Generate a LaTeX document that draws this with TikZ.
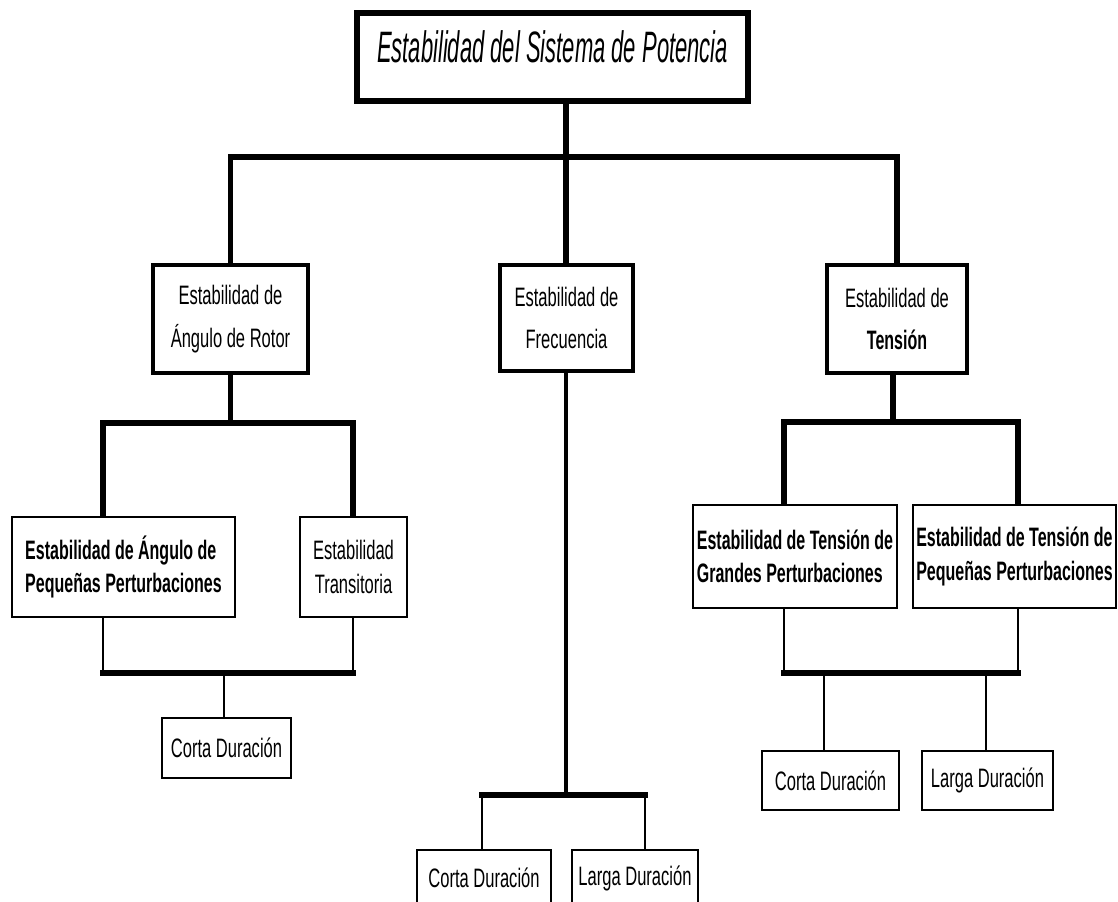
\documentclass[tikz,border=0pt]{standalone}
\usepackage{fontspec}
\usetikzlibrary{backgrounds,shadows}
\newfontfamily\regf[FakeStretch=0.62]{Liberation Sans}
\newfontfamily\boldf[FakeStretch=0.60]{Liberation Sans}
\newfontfamily\titf[FakeStretch=0.50]{Liberation Sans}
\newcommand\bx[7]{\node[#6, minimum width={(#4-#2)*0.75pt}, minimum height={(#5-#3)*0.75pt}] (#1) at ({(#2+#4)/2},{(#3+#5)/2}) {#7};}
\tikzset{
  x=0.75pt, y=-0.75pt,
  box/.style={draw=black, fill=white, inner sep=0pt, align=center,
    drop shadow={shadow xshift=0.9pt, shadow yshift=-0.9pt, opacity=0.8, fill=black}},
  topbox/.style={box, line width=4.5pt, font=\titf\itshape\fontsize{33}{38}\selectfont},
  midbox/.style={box, line width=3pt, font=\regf\fontsize{20}{32}\selectfont},
  subbox/.style={box, line width=1.8pt},
  leafbox/.style={box, line width=1.5pt, font=\regf\fontsize{20}{24}\selectfont},
  boldtxt/.style={align=left, font=\boldf\bfseries\fontsize{20}{25}\selectfont},
  regtxt/.style={font=\regf\fontsize{20}{26}\selectfont},
  tline/.style={line width=4.3pt, line cap=rect, line join=miter},
  mline/.style={line width=2.2pt, line cap=rect},
  vline/.style={line width=3pt, line cap=rect},
  nline/.style={line width=1.5pt},
}
\begin{document}
\begin{tikzpicture}
\useasboundingbox (0,0) rectangle (1118,902);
% level 0
\bx{top}{357}{13}{748}{101}{topbox}{\raisebox{8pt}[\height][\depth]{Estabilidad del Sistema de Potencia}}
% level 1
\bx{L1}{153}{265}{308}{373}{midbox}{Estabilidad de\\Ángulo de Rotor}
\bx{M1}{500}{265}{633}{371}{midbox,line width=2.4pt}{Estabilidad de\\Frecuencia}
\bx{R1}{827}{265}{967}{373}{midbox}{Estabilidad de\\{\boldf\bfseries Tensión}}
% level 2
\bx{L2a}{12}{517}{235}{617}{subbox,boldtxt}{Estabilidad de Ángulo de\\Pequeñas Perturbaciones}
\bx{L2b}{300}{517}{407}{617}{subbox,regtxt}{Estabilidad\\Transitoria}
\bx{R2a}{693}{505}{897}{608}{subbox,boldtxt}{Estabilidad de Tensión de\\Grandes Perturbaciones}
\bx{R2b}{913}{505}{1116}{608}{subbox,boldtxt}{Estabilidad de Tensión de\\Pequeñas Perturbaciones}
% level 3
\bx{LC}{162}{718}{291}{778}{leafbox}{Corta Duración}
\bx{MC}{417}{850}{551}{906}{leafbox}{Corta Duración}
\bx{ML}{572}{850}{698}{906}{leafbox}{Larga Duración}
\bx{RC}{762}{751}{899}{810}{leafbox}{Corta Duración}
\bx{RL}{922}{751}{1053}{810}{leafbox}{Larga Duración}
% junction coordinates
\coordinate (b0) at (566,157);
\coordinate (b1l) at (103,423);
\coordinate (b1r) at (353,423);
\coordinate (b2l) at (103,673);
\coordinate (b2r) at (353,673);
\coordinate (b2c) at (224,673);
\coordinate (b3) at (566,795);
\coordinate (b3l) at (482,795);
\coordinate (b3r) at (645,795);
\coordinate (b4) at (893,422);
\coordinate (b4l) at (784,422);
\coordinate (b4r) at (1018,422);
\coordinate (b5l) at (784,673);
\coordinate (b5r) at (1018,673);
\coordinate (b5a) at (824,673);
\coordinate (b5b) at (986,673);
\begin{pgfonlayer}{background}
% top
\draw[tline] (top.south -| b0) -- (b0);
\draw[tline] (L1.north) |- (b0) -| (R1.north);
\draw[tline] (b0) -- (M1.north -| b0);
% left branch
\draw[tline] (L1.south) -- (L1.south |- b1l);
\draw[tline] (L2a.north -| b1l) |- (b1r) -- (L2b.north -| b1r);
\draw[mline] (L2a.south -| b2l) -- (b2l);
\draw[mline] (L2b.south -| b2r) -- (b2r);
\draw[tline] (b2l) -- (b2r);
\draw[nline] (b2c) -- (LC.north -| b2c);
% middle branch
\draw[vline] (M1.south -| b3) -- (b3);
\draw[tline] (b3l) -- (b3r);
\draw[nline] (b3l) -- (MC.north -| b3l);
\draw[nline] (b3r) -- (ML.north -| b3r);
% right branch
\draw[tline] (R1.south -| b4) -- (b4);
\draw[tline] (R2a.north -| b4l) |- (b4r) -- (R2b.north -| b4r);
\draw[mline] (R2a.south -| b5l) -- (b5l);
\draw[mline] (R2b.south -| b5r) -- (b5r);
\draw[tline] (b5l) -- (b5r);
\draw[nline] (b5a) -- (RC.north -| b5a);
\draw[nline] (b5b) -- (RL.north -| b5b);
\end{pgfonlayer}
\end{tikzpicture}
\end{document}
